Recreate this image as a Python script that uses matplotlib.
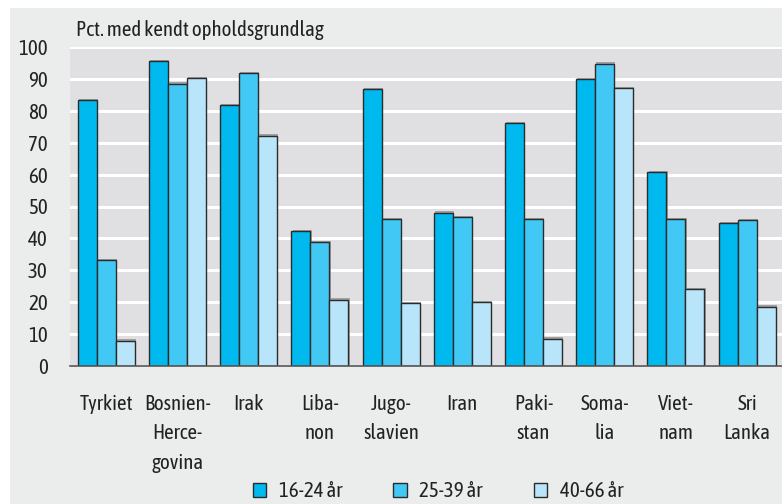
import numpy as np
import matplotlib.pyplot as plt
from matplotlib.patches import Rectangle, Patch
import matplotlib.patheffects as pe

plt.rcParams['font.family'] = ['Asap Condensed', 'Liberation Sans Narrow', 'DejaVu Sans']

# Data
countries = ['Tyrkiet', 'Bosnien-\nHerce-\ngovina', 'Irak', 'Liba-\nnon', 'Jugo-\nslavien',
             'Iran', 'Paki-\nstan', 'Soma-\nlia', 'Viet-\nnam', 'Sri\nLanka']
age_16_24 = [83.4, 95.5, 81.7, 42.3, 86.8, 48.0, 76.2, 89.9, 60.8, 44.7]
age_25_39 = [33.1, 88.5, 91.8, 38.9, 46.1, 46.6, 46.0, 94.8, 46.0, 45.8]
age_40_66 = [7.9, 90.3, 72.2, 20.8, 19.6, 20.0, 8.5, 87.1, 24.1, 18.6]
series_labels = ['16-24 år', '25-39 år', '40-66 år']
colors = ['#00B9EF', '#42C8F5', '#B9E5FA']

W, H = 782, 504
FS = 15
fig = plt.figure(figsize=(W / 100, H / 100), dpi=100, facecolor='white')
fig.patches.append(Rectangle((10 / W, 0), 1, (H - 8) / H, transform=fig.transFigure,
                             facecolor='#EBECEC', edgecolor='none', zorder=-10))

ax = fig.add_axes([70 / W, (H - 366) / H, (W - 70) / W, (366 - 47) / H])
ax.set_facecolor('#E0E0E2')

x = np.arange(len(countries))
gap = 71.2  # px between group centres
w = 19 / gap
shadow = [pe.SimplePatchShadow(offset=(1, 1), shadow_rgbFace='#777777', alpha=0.6), pe.Normal()]
for k, (vals, c) in enumerate(zip([age_16_24, age_25_39, age_40_66], colors)):
    bars = ax.bar(x + (k - 1) * w, vals, width=w, color=c, edgecolor='#2b2b2b',
                  linewidth=1.0, zorder=3)
    for b in bars:
        b.set_path_effects(shadow)

ax.set_ylim(0, 100)
ax.set_xlim(-36.2 / gap, (W - 106.2) / gap)
ax.set_yticks(np.arange(0, 101, 10))
ax.yaxis.grid(True, color='white', linewidth=2.2, zorder=1)
ax.set_axisbelow(True)
for s in ['top', 'right', 'left']:
    ax.spines[s].set_visible(False)
ax.spines['bottom'].set_color('#555555')
ax.spines['bottom'].set_linewidth(1.2)
ax.spines['bottom'].set_zorder(4)

ax.set_xticks(x)
ax.set_xticklabels(countries, fontsize=FS, color='#222222', linespacing=1.6, va='top')
ax.tick_params(axis='x', length=0, pad=20)
ax.tick_params(axis='y', length=0, pad=16, labelsize=FS, labelcolor='#222222')

fig.text(76 / W, 1 - 30 / H, 'Pct. med kendt opholdsgrundlag', fontsize=FS,
         color='#222222', va='center', ha='left')

handles = [Patch(facecolor=c, edgecolor='#2b2b2b', linewidth=1.0) for c in colors]
fig.legend(handles, series_labels, loc='center', bbox_to_anchor=(438 / W, 1 - 491 / H),
           ncol=3, frameon=False, fontsize=FS, handlelength=0.65, handleheight=0.65,
           handletextpad=0.6, columnspacing=2.45, labelcolor='#222222')

fig.savefig('out.png', dpi=100, facecolor=fig.get_facecolor())
